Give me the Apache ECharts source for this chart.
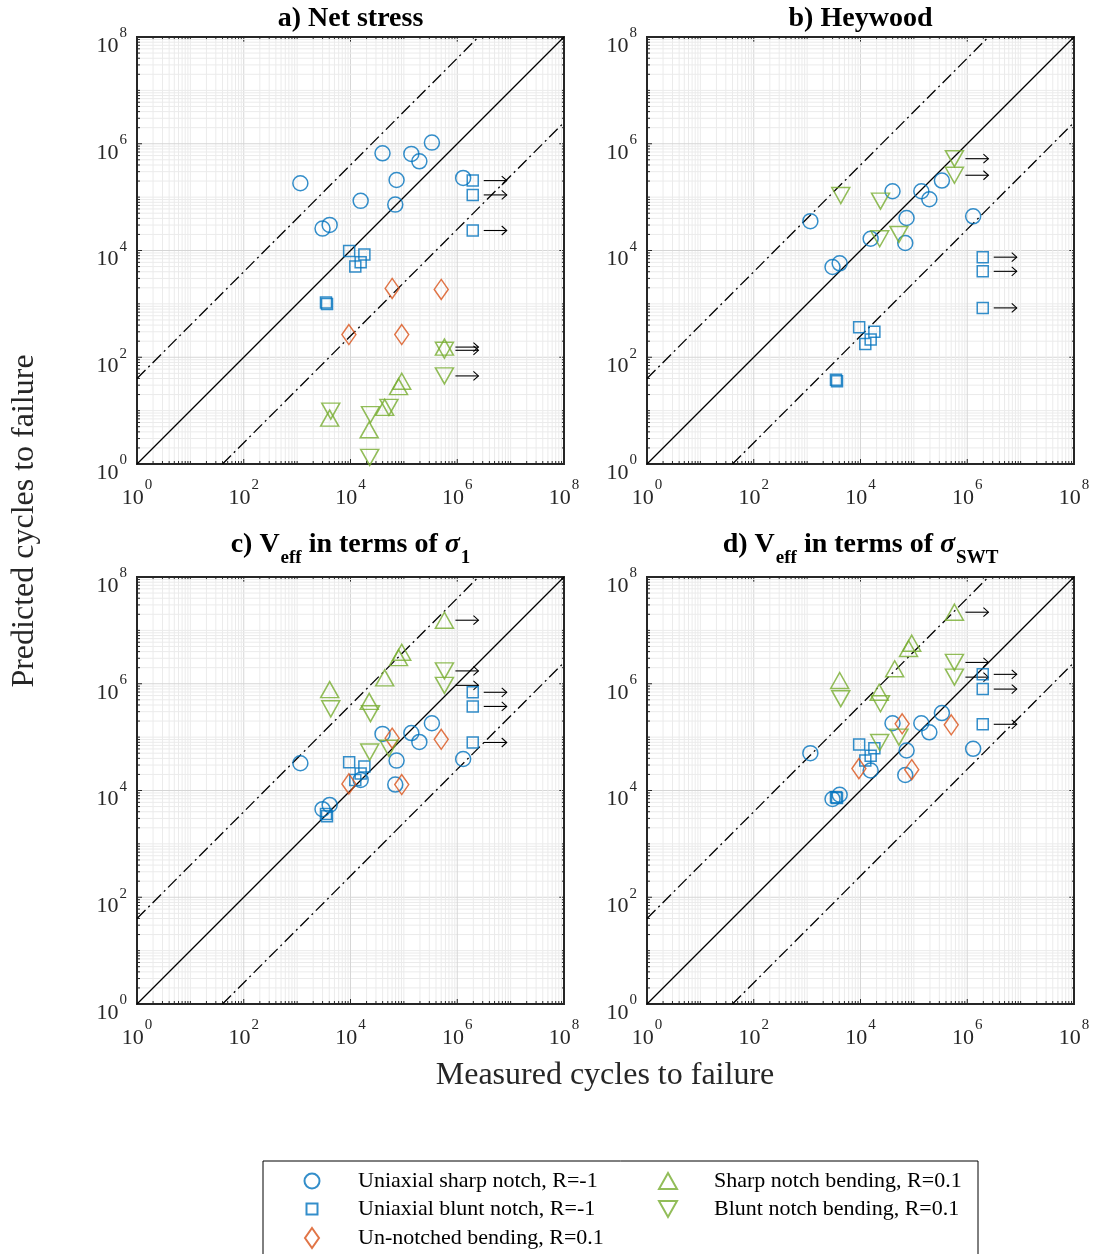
<!DOCTYPE html>
<html>
<head>
<meta charset="utf-8">
<title>Predicted vs measured cycles to failure</title>
<script src="https://cdn.jsdelivr.net/npm/echarts@6/dist/echarts.min.js"></script>
<style>
  html, body { margin: 0; padding: 0; background: #fff; }
  #chart { width: 1095px; height: 1254px; }
</style>
</head>
<body>
<div id="chart"></div>
<script>
// measured cycles to failure, same specimens in every panel
var sharpX = [1.15e3, 2.99e3, 4.07e3, 1.55e4, 3.98e4, 7.3e4, 6.9e4, 1.38e5, 1.95e5, 3.35e5, 1.29e6];
var bluntX = [9.44e3, 1.82e4, 1.55e4, 1.23e4, 3.47e3, 3.63e3, 1.95e6, 1.95e6, 1.95e6];
var plainX = [9.33e3, 6.03e4, 9.12e4, 5.01e5];
var sharpBendX = [4.07e3, 2.24e4, 4.37e4, 7.94e4, 9.12e4, 5.75e5];
var bluntBendX = [4.27e3, 2.37e4, 2.29e4, 5.25e4, 5.75e5, 5.75e5];

// run-outs (drawn with an arrow)
var bluntRunout = [0, 0, 0, 0, 0, 0, 1, 1, 1];
var sharpBendRunout = [0, 0, 0, 0, 0, 1];
var bluntBendRunout = [0, 0, 0, 0, 1, 1];

// predicted cycles, a) net stress
var sharpA = [1.82e5, 2.57e4, 3.02e4, 8.51e4, 6.61e5, 2.09e5, 7.24e4, 6.46e5, 4.68e5, 1.05e6, 2.29e5];
var bluntA = [9.77e3, 8.41e3, 6.03e3, 5.01e3, 1.06e3, 1.0e3, 2.04e5, 1.1e5, 2.37e4];
var plainA = [266, 1950, 266, 1860];
var sharpBendA = [7.24, 4.37, 11.5, 28.2, 35.5, 155];
var bluntBendA = [9.77, 8.41, 1.33, 11.5, 135, 44.7];

// b) Heywood
var sharpB = [3.55e4, 4.9e3, 5.75e3, 1.66e4, 1.29e5, 4.07e4, 1.38e4, 1.29e5, 9.12e4, 2.04e5, 4.37e4];
var bluntB = [363, 302, 214, 178, 38, 35.5, 7.5e3, 4.07e3, 841];
var bluntBendB = [1.07e5, 8.41e4, 1.66e4, 2.0e4, 5.25e5, 2.57e5];

// c) Veff, sigma_1
var sharpC = [3.24e4, 4.47e3, 5.37e3, 1.58e4, 1.15e5, 3.63e4, 1.29e4, 1.19e5, 8.13e4, 1.82e5, 3.89e4];
var bluntC = [3.39e4, 2.82e4, 2.09e4, 1.58e4, 3.63e3, 3.31e3, 6.92e5, 3.76e5, 7.94e4];
var plainC = [1.33e4, 9.55e4, 1.29e4, 9.12e4];
var sharpBendC = [7.76e5, 4.68e5, 1.29e6, 3.09e6, 3.89e6, 1.55e7];
var bluntBendC = [3.39e5, 2.75e5, 5.25e4, 6.17e4, 1.74e6, 9.33e5];

// d) Veff, sigma_SWT
var sharpD = [5.01e4, 6.92e3, 8.32e3, 2.37e4, 1.82e5, 5.62e4, 1.95e4, 1.82e5, 1.23e5, 2.82e5, 6.03e4];
var bluntD = [7.24e4, 6.17e4, 4.47e4, 3.63e4, 7.5e3, 7.24e3, 1.5e6, 7.94e5, 1.74e5];
var plainD = [2.57e4, 1.78e5, 2.45e4, 1.7e5];
var sharpBendD = [1.15e6, 6.92e5, 1.91e6, 4.57e6, 5.75e6, 2.19e7];
var bluntBendD = [5.25e5, 4.22e5, 7.94e4, 1.0e5, 2.51e6, 1.33e6];

var scatterFactor = 40;          // dash-dot band
var axisMin = 1, axisMax = 1e8;
var decades = [0, 1, 2, 3, 4, 5, 6, 7];

var panelTitles = [
  '{n|a) Net stress}',
  '{n|b) Heywood}',
  '{n|c) V}{s|eff}{n| in terms of }{g|σ}{s|1}',
  '{n|d) V}{s|eff}{n| in terms of }{g|σ}{s|SWT}'
];

var SERIF = '"Liberation Serif", "Times New Roman", Times, serif';
var INK = '#262626';
var BLUE = '#0072BD', ORANGE = '#D95319', GREEN = '#77AC30';
var DOWN_TRI = 'path://M0,0L18,0L9,16Z';

var SIZE = 427;
var GRIDS = [
  { left: 137, top: 37, titleTop: 5 },
  { left: 647, top: 37, titleTop: 5 },
  { left: 137, top: 577, titleTop: 531 },
  { left: 647, top: 577, titleTop: 531 }
];

var groups = [
  { name: 'Uniaxial sharp notch, R=-1', x: sharpX, y: [sharpA, sharpB, sharpC, sharpD],
    symbol: 'circle', size: 15, color: BLUE, runout: null },
  { name: 'Uniaxial blunt notch, R=-1', x: bluntX, y: [bluntA, bluntB, bluntC, bluntD],
    symbol: 'rect', size: 11, color: BLUE, runout: bluntRunout },
  { name: 'Un-notched bending, R=0.1', x: plainX, y: [plainA, null, plainC, plainD],
    symbol: 'diamond', size: [14, 20], color: ORANGE, runout: null },
  { name: 'Sharp notch bending, R=0.1', x: sharpBendX, y: [sharpBendA, null, sharpBendC, sharpBendD],
    symbol: 'triangle', size: [18, 16], color: GREEN, runout: sharpBendRunout },
  { name: 'Blunt notch bending, R=0.1', x: bluntBendX, y: [bluntBendA, bluntBendB, bluntBendC, bluntBendD],
    symbol: 'triangle', size: [18, 16], color: GREEN, rotate: 180, icon: DOWN_TRI, runout: bluntBendRunout }
];

// legend placement: marker centre and row
var legendSlots = [
  { g: 0, cx: 311, cy: 1181, w: 15, h: 15 },
  { g: 3, cx: 667, cy: 1181, w: 18, h: 16 },
  { g: 1, cx: 311, cy: 1209, w: 11, h: 11 },
  { g: 4, cx: 667, cy: 1209, w: 18, h: 16 },
  { g: 2, cx: 311, cy: 1238, w: 14, h: 20 }
];
var LEGEND_LINE = 22;

// grid lines: every 1..9 x 10^k, major at even decades
var gridVals = [];
decades.forEach(function (k) {
  for (var m = 1; m <= 9; m++) {
    if (k === 0 && m === 1) continue;
    gridVals.push([m * Math.pow(10, k), (m === 1 && k % 2 === 0) ? 1 : 0]);
  }
});

function renderGrid(params, api) {
  var v = api.value(0);
  var major = api.value(1) === 1;
  var cs = params.coordSys;
  var pt = api.coord([v, v]);
  var px = pt[0], py = pt[1];
  var col = major ? '#d6d6d6' : '#ebebeb';
  var t = major ? 5 : 3;
  var gs = { stroke: col, lineWidth: 1 };
  var ts = { stroke: INK, lineWidth: 1 };
  var x0 = cs.x, x1 = cs.x + cs.width, y0 = cs.y, y1 = cs.y + cs.height;
  return {
    type: 'group',
    children: [
      { type: 'line', shape: { x1: px, y1: y0 + 1, x2: px, y2: y1 - 1 }, style: gs },
      { type: 'line', shape: { x1: x0 + 1, y1: py, x2: x1 - 1, y2: py }, style: gs },
      { type: 'line', shape: { x1: px, y1: y1, x2: px, y2: y1 - t }, style: ts },
      { type: 'line', shape: { x1: px, y1: y0, x2: px, y2: y0 + t }, style: ts },
      { type: 'line', shape: { x1: x0, y1: py, x2: x0 + t, y2: py }, style: ts },
      { type: 'line', shape: { x1: x1, y1: py, x2: x1 - t, y2: py }, style: ts }
    ]
  };
}

function renderArrow(params, api) {
  var p = api.coord([api.value(0), api.value(1)]);
  var xa = p[0] + 11, xb = p[0] + 34, y = p[1];
  var st = { stroke: '#000', lineWidth: 1.1, fill: null };
  return {
    type: 'group',
    children: [
      { type: 'line', shape: { x1: xa, y1: y, x2: xb, y2: y }, style: st },
      { type: 'polyline', shape: { points: [[xb - 5, y - 4.5], [xb, y], [xb - 5, y + 4.5]] }, style: st }
    ]
  };
}

function tickLabel(v) {
  var e = Math.round(Math.log(v) / Math.LN10);
  return e % 2 === 0 ? '{b|10}{e|' + e + '}' : '';
}

var tickRich = {
  b: { fontFamily: SERIF, fontSize: 22, color: INK, lineHeight: 22, verticalAlign: 'top', padding: [9, 0, 0, 0] },
  e: { fontFamily: SERIF, fontSize: 15, color: INK, lineHeight: 15, verticalAlign: 'top', padding: [0, 0, 0, 1] }
};

var titleRich = {
  n: { fontFamily: SERIF, fontSize: 28, fontWeight: 'bold', color: '#000', lineHeight: 30, verticalAlign: 'top' },
  g: { fontFamily: SERIF, fontSize: 28, fontWeight: 'bold', fontStyle: 'italic', color: '#000', lineHeight: 30, verticalAlign: 'top' },
  s: { fontFamily: SERIF, fontSize: 19, fontWeight: 'bold', color: '#000', lineHeight: 19, verticalAlign: 'top', padding: [18, 0, 0, 1] }
};

var grid = [], xAxis = [], yAxis = [], series = [], title = [];

GRIDS.forEach(function (g, p) {
  grid.push({
    left: g.left, top: g.top, width: SIZE, height: SIZE,
    show: true, backgroundColor: '#fff', borderColor: INK, borderWidth: 2
  });
  xAxis.push({
    type: 'log', logBase: 10, gridIndex: p, min: axisMin, max: axisMax,
    axisLine: { show: false }, axisTick: { show: false }, splitLine: { show: false },
    axisLabel: { formatter: tickLabel, rich: tickRich, margin: 14 }
  });
  yAxis.push({
    type: 'log', logBase: 10, gridIndex: p, min: axisMin, max: axisMax,
    axisLine: { show: false }, axisTick: { show: false }, splitLine: { show: false },
    axisLabel: { formatter: tickLabel, rich: tickRich, margin: 10 }
  });
  title.push({
    text: panelTitles[p],
    left: g.left + SIZE / 2, top: g.titleTop, padding: 0,
    textAlign: 'center', textVerticalAlign: 'top',
    textStyle: { rich: titleRich }
  });

  series.push({
    type: 'custom', xAxisIndex: p, yAxisIndex: p, z: 1, silent: true,
    dimensions: ['v', 'major'], encode: { x: 0, y: 0 },
    data: gridVals, renderItem: renderGrid
  });

  // 1:1 line and factor bands
  series.push({
    type: 'line', xAxisIndex: p, yAxisIndex: p, z: 2, silent: true, symbol: 'none',
    lineStyle: { color: '#000', width: 1.3 },
    data: [[axisMin, axisMin], [axisMax, axisMax]]
  });
  series.push({
    type: 'line', xAxisIndex: p, yAxisIndex: p, z: 2, silent: true, symbol: 'none',
    lineStyle: { color: '#000', width: 1.3, type: [12, 4, 2, 4] },
    data: [[axisMin, axisMin * scatterFactor], [axisMax / scatterFactor, axisMax]]
  });
  series.push({
    type: 'line', xAxisIndex: p, yAxisIndex: p, z: 2, silent: true, symbol: 'none',
    lineStyle: { color: '#000', width: 1.3, type: [12, 4, 2, 4] },
    data: [[axisMin * scatterFactor, axisMin], [axisMax, axisMax / scatterFactor]]
  });

  var arrows = [];
  groups.forEach(function (gr) {
    var ys = gr.y[p];
    if (!ys) return;
    var pts = gr.x.map(function (x, i) { return [x, ys[i]]; });
    series.push({
      name: gr.name, type: 'scatter', xAxisIndex: p, yAxisIndex: p, z: 3,
      symbol: gr.symbol, symbolSize: gr.size, symbolRotate: gr.rotate || 0,
      itemStyle: { color: 'rgba(0,0,0,0)', borderColor: gr.color, borderWidth: 1.5 },
      emphasis: { disabled: true },
      data: pts
    });
    if (gr.runout) {
      pts.forEach(function (pt, i) { if (gr.runout[i]) arrows.push(pt); });
    }
  });
  series.push({
    type: 'custom', xAxisIndex: p, yAxisIndex: p, z: 3, silent: true,
    data: arrows, renderItem: renderArrow
  });
});

var legend = legendSlots.map(function (s) {
  var gr = groups[s.g];
  var item = { name: gr.name };
  if (gr.icon) item.icon = gr.icon;
  return {
    data: [item],
    selectedMode: false, orient: 'vertical', padding: 0,
    left: s.cx - s.w / 2, top: s.cy - Math.max(s.h, LEGEND_LINE) / 2,
    itemWidth: s.w, itemHeight: s.h, itemGap: 0,
    textStyle: {
      fontFamily: SERIF, fontSize: 22, color: '#000', lineHeight: LEGEND_LINE,
      padding: [0, 0, 0, (s.cx < 500 ? 357 : 713) - (s.cx + s.w / 2) - 5]
    }
  };
});

var chart = echarts.init(document.getElementById('chart'));
chart.setOption({
  animation: false,
  backgroundColor: '#fff',
  title: title,
  grid: grid,
  xAxis: xAxis,
  yAxis: yAxis,
  legend: legend,
  series: series,
  graphic: [
    { type: 'text', x: 605, y: 1076, silent: true,
      style: { text: 'Measured cycles to failure', fontFamily: SERIF, fontSize: 32, fill: INK, align: 'center', verticalAlign: 'middle' } },
    { type: 'text', x: 25, y: 521, rotation: Math.PI / 2, silent: true,
      style: { text: 'Predicted cycles to failure', fontFamily: SERIF, fontSize: 32, fill: INK, align: 'center', verticalAlign: 'middle' } },
    { type: 'rect', silent: true, shape: { x: 263, y: 1161, width: 715, height: 110 },
      style: { fill: null, stroke: '#000', lineWidth: 1 } }
  ]
});
</script>
</body>
</html>
